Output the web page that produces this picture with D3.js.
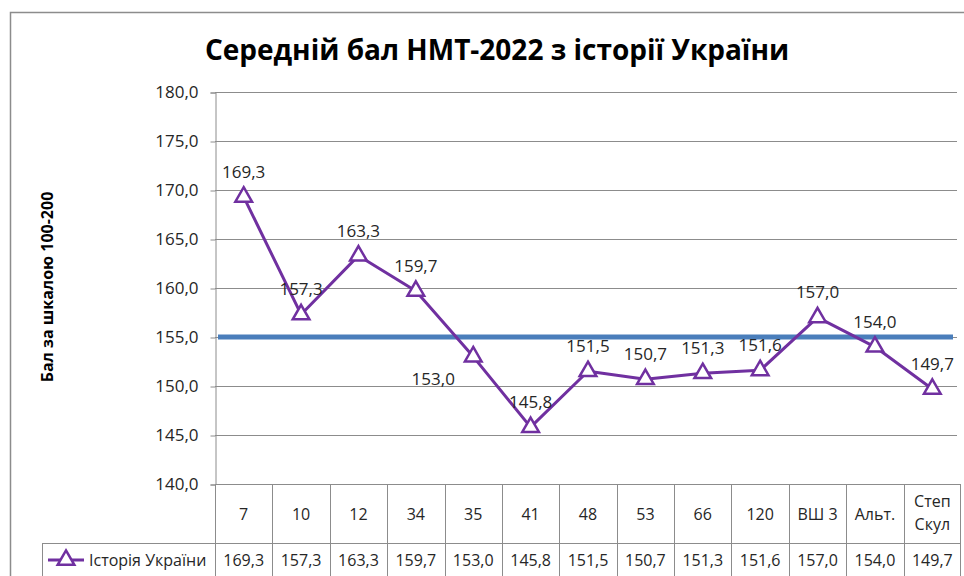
<!DOCTYPE html>
<html lang="uk">
<head>
<meta charset="UTF-8">
<title>НМТ-2022</title>
<script src="https://cdn.jsdelivr.net/npm/d3@7"></script>
<style>
    body { margin: 0; background: #fff; }
    svg { display: block; font-family: "Open Sans", "Noto Sans", sans-serif; }
</style>
</head>
<body>
<div id="chart"></div>
<script>
    const categories = ["7", "10", "12", "34", "35", "41", "48", "53", "66", "120", "ВШ 3", "Альт.", "Степ Скул"]
    const scores = [169.3, 157.3, 163.3, 159.7, 153.0, 145.8, 151.5, 150.7, 151.3, 151.6, 157.0, 154.0, 149.7]
    const averageScore = 155.0
    const yTicks = [140, 145, 150, 155, 160, 165, 170, 175, 180]
    const seriesName = "Історія України"
    const title = "Середній бал НМТ-2022 з історії України"
    const yTitle = "Бал за шкалою 100-200"

    const W = 964, H = 576
    const plot = {left: 215, right: 961, top: 92, bottom: 484}
    const tableRow = 543
    const grid = "#8c8c8c", text = "#262626", purple = "#7030a0", blue = "#4a7ebb"

    const locale = d3.formatLocale({decimal: ",", thousands: " ", grouping: [3], currency: ["", ""]})
    const fmt = locale.format(".1f")

    const svg = d3.select("#chart").append("svg")
        .attr("width", W).attr("height", H)

    // chart frame
    svg.append("path")
        .attr("d", `M10.5,${H} V12.5 H${W}`)
        .attr("fill", "none").attr("stroke", grid).attr("stroke-width", 1.5)

    svg.append("text")
        .attr("x", 497).attr("y", 60)
        .attr("text-anchor", "middle")
        .attr("font-size", 28).attr("font-weight", "bold")
        .attr("fill", "#000")
        .text(title)

    const x = d3.scaleBand().domain(categories).range([plot.left, plot.right])
    const y = d3.scaleLinear().domain([140, 180]).range([plot.bottom, plot.top])
    const cx = c => x(c) + x.bandwidth() / 2

    // gridlines
    svg.append("g").selectAll("line").data(yTicks).join("line")
        .attr("x1", plot.left).attr("x2", 957)
        .attr("y1", d => Math.round(y(d)) + 0.5).attr("y2", d => Math.round(y(d)) + 0.5)
        .attr("stroke", grid).attr("stroke-width", 1)

    // y axis
    const yAxis = svg.append("g")
        .attr("transform", `translate(${plot.left + 0.5},0.5)`)
        .call(d3.axisLeft(y).tickValues(yTicks).tickFormat(fmt).tickSize(5).tickPadding(12))
    yAxis.select(".domain").attr("stroke", grid)
    yAxis.selectAll(".tick line").attr("stroke", grid)
    yAxis.selectAll(".tick text").attr("font-size", 17).attr("fill", text)
        .attr("font-family", "'Open Sans', sans-serif")

    svg.append("text")
        .attr("transform", `translate(53,287) rotate(-90)`)
        .attr("text-anchor", "middle")
        .attr("font-size", 16).attr("font-weight", "bold").attr("fill", "#000")
        .text(yTitle)

    // average line
    svg.append("line")
        .attr("x1", plot.left + 3).attr("x2", plot.right - 8)
        .attr("y1", y(averageScore)).attr("y2", y(averageScore))
        .attr("stroke", blue).attr("stroke-width", 5)

    // series line
    const line = d3.line().x((d, i) => cx(categories[i])).y(d => y(d))
    svg.append("path").datum(scores)
        .attr("d", line)
        .attr("fill", "none").attr("stroke", purple).attr("stroke-width", 3)
        .attr("stroke-linejoin", "round")

    const tri = d3.symbol().type(d3.symbolTriangle).size(120)
    svg.append("g").selectAll("path").data(scores).join("path")
        .attr("transform", (d, i) => `translate(${cx(categories[i])},${y(d)})`)
        .attr("d", tri)
        .attr("fill", "#fff").attr("stroke", purple).attr("stroke-width", 2.5)

    // data labels (the "35" label sits to the left)
    const leftLabels = new Set(["35"])
    svg.append("g").selectAll("text").data(scores).join("text")
        .attr("x", (d, i) => leftLabels.has(categories[i]) ? cx(categories[i]) - 40 : cx(categories[i]))
        .attr("y", (d, i) => leftLabels.has(categories[i]) ? y(d) + 28 : y(d) - 19)
        .attr("text-anchor", "middle")
        .attr("font-size", 17).attr("fill", text)
        .text(fmt)

    // data table
    const tbl = svg.append("g").attr("stroke", grid).attr("stroke-width", 1)
    tbl.append("line").attr("x1", plot.left).attr("x2", plot.right)
        .attr("y1", plot.bottom + 0.5).attr("y2", plot.bottom + 0.5)
    tbl.append("line").attr("x1", 42).attr("x2", plot.right)
        .attr("y1", tableRow + 0.5).attr("y2", tableRow + 0.5)
    tbl.append("line").attr("x1", 42.5).attr("x2", 42.5).attr("y1", tableRow).attr("y2", H)
    tbl.selectAll(".col").data(categories.concat([null])).join("line")
        .attr("x1", d => d === null ? plot.right - 0.5 : Math.round(x(d)) + 0.5)
        .attr("x2", d => d === null ? plot.right - 0.5 : Math.round(x(d)) + 0.5)
        .attr("y1", plot.bottom).attr("y2", H)

    const catText = svg.append("g").selectAll("text").data(categories).join("text")
        .attr("x", cx).attr("y", d => d.includes(" ") && d.length > 5 ? 507 : 520)
        .attr("text-anchor", "middle")
        .attr("font-size", 16).attr("fill", text)
    catText.each(function (d) {
        const words = d.length > 5 && d.includes(" ") ? d.split(" ") : [d]
        d3.select(this).selectAll("tspan").data(words).join("tspan")
            .attr("x", cx(d)).attr("dy", (w, i) => i ? 23 : 0).text(w => w)
    })

    svg.append("g").selectAll("text").data(scores).join("text")
        .attr("x", (d, i) => cx(categories[i])).attr("y", 566)
        .attr("text-anchor", "middle")
        .attr("font-size", 16).attr("fill", text)
        .text(fmt)

    // legend key
    svg.append("line").attr("x1", 48).attr("x2", 84).attr("y1", 560).attr("y2", 560)
        .attr("stroke", purple).attr("stroke-width", 3)
    svg.append("path").attr("transform", "translate(66,560)").attr("d", tri)
        .attr("fill", "#fff").attr("stroke", purple).attr("stroke-width", 2.5)
    svg.append("text").attr("x", 89).attr("y", 566)
        .attr("font-size", 16).attr("fill", text)
        .text(seriesName)
</script>
</body>
</html>
